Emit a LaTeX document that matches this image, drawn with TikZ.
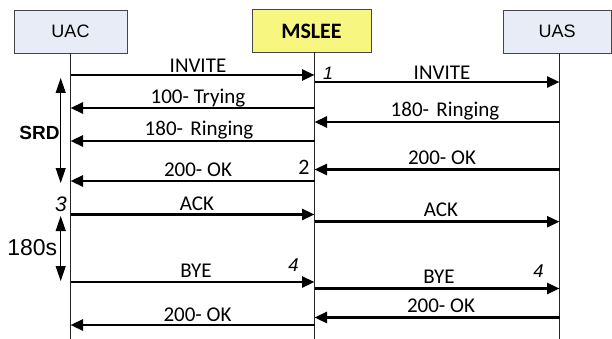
\documentclass[tikz,border=0pt]{standalone}
\usepackage{fontspec}
\setmainfont{Carlito}
\newfontfamily\arialfont{Liberation Sans}
\usetikzlibrary{arrows.meta}

\definecolor{actorfill}{RGB}{232,236,246}
\definecolor{proxyfill}{RGB}{246,246,128}
\definecolor{boxline}{RGB}{70,70,70}

\tikzset{
  actor/.style={draw=boxline, line width=0.9pt, fill=actorfill, inner sep=0pt,
    minimum height=43pt, font=\arialfont\fontsize{18}{20}\selectfont},
  proxy/.style={actor, fill=proxyfill, font=\bfseries\fontsize{22}{24}\selectfont},
  lifeline/.style={line width=1pt, draw=black!85},
  msg/.style={line width=2.5pt, -{Triangle[length=12.5pt,width=11pt]}},
  span/.style={line width=1pt, {Triangle[length=15pt,width=10pt]}-{Triangle[length=15pt,width=10pt]}},
  lbl/.style={anchor=base, inner sep=0pt, font=\fontsize{21}{23}\selectfont},
  stepno/.style={inner sep=0pt, font=\arialfont\itshape\fontsize{18.5}{20}\selectfont},
}

\begin{document}
\begin{tikzpicture}[x=1pt,y=-1pt]
  \useasboundingbox[fill=white] (0,0) rectangle (612,339);

  % participants
  \node[actor, minimum width=113pt] (uac) at (70.5,31.5) {UAC};
  \node[proxy, minimum width=119pt] (mslee) at (311.5,31) {MSLEE};
  \node[actor, minimum width=108pt] (uas) at (557,31.5) {UAS};

  % lifelines
  \coordinate (uacT) at (70.5,53);   \coordinate (uacB) at (70.5,339);
  \coordinate (msT)  at (314.5,52.5);\coordinate (msB)  at (314.5,339);
  \coordinate (uasT) at (559.5,53);  \coordinate (uasB) at (559.5,339);
  \draw[lifeline] (uacT) -- (uacB);
  \draw[lifeline] (msT) -- (msB);
  \draw[lifeline] (uasT) -- (uasB);

  % message end points on the lifelines
  \foreach \n/\y in {1/75,3/108,5/141,7/181,8/214.5,10/282,13/325}{
    \coordinate (c\n) at (70.5,\y);
    \coordinate (m\n) at (314.5,\y);
  }
  \foreach \n/\y in {2/82,4/122,6/169.5,9/221.7,11/288.5,12/317.5}{
    \coordinate (m\n) at (314.5,\y);
    \coordinate (s\n) at (559.5,\y);
  }

  % messages
  \draw[msg] (c1) -- (m1);
  \draw[msg] (m2) -- (s2);
  \draw[msg] (m3) -- (c3);
  \draw[msg] (s4) -- (m4);
  \draw[msg] (m5) -- (c5);
  \draw[msg] (s6) -- (m6);
  \draw[msg] (m7) -- (c7);
  \draw[msg] (c8) -- (m8);
  \draw[msg] (m9) -- (s9);
  \draw[msg] (c10) -- (m10);
  \draw[msg] (m11) -- (s11);
  \draw[msg] (s12) -- (m12);
  \draw[msg] (m13) -- (c13);

  % message labels
  \node[lbl] (l1)  at (198,73)    {INVITE};
  \node[lbl] (l2)  at (442,79.5)  {INVITE};
  \node[lbl] (l3)  at (198,103.5) {100- Trying};
  \node[lbl] (l4)  at (445,117)   {180-\hspace{0.35em}Ringing};
  \node[lbl] (l5)  at (199,136)   {180-\hspace{0.35em}Ringing};
  \node[lbl] (l6)  at (442,164.5) {200- OK};
  \node[lbl] (l7)  at (198,176.5) {200- OK};
  \node[lbl] (l8)  at (197,210)   {ACK};
  \node[lbl] (l9)  at (441,216)   {ACK};
  \node[lbl] (l10) at (196,277.5) {BYE};
  \node[lbl] (l11) at (439,283.5) {BYE};
  \node[lbl] (l12) at (441,312.7) {200- OK};
  \node[lbl] (l13) at (197.5,321) {200- OK};

  % step numbers
  \node[stepno, font=\arialfont\itshape\fontsize{18}{20}\selectfont] (n1) at (328,73) {1};
  \node[inner sep=0pt, font=\fontsize{22}{24}\selectfont] (n2) at (304,167) {2};
  \node[stepno, font=\arialfont\itshape\fontsize{21}{23}\selectfont] (n3) at (61,204) {3};
  \node[stepno] (n4a) at (293.5,265) {4};
  \node[stepno] (n4b) at (538.5,271) {4};

  % intervals
  \coordinate (srdT) at (60.7,78);  \coordinate (srdB) at (60.7,183);
  \coordinate (tT) at (60.7,216);   \coordinate (tB) at (60.7,281);
  \draw[span] (srdT) -- (srdB);
  \draw[span] (tT) -- (tB);
  \node[inner sep=0pt, font=\arialfont\bfseries\fontsize{19}{21}\selectfont] (srd) at (39.5,133) {SRD};
  \node[inner sep=0pt, font=\arialfont\fontsize{23}{25}\selectfont] (dur) at (32.3,248) {180s};
\end{tikzpicture}
\end{document}
